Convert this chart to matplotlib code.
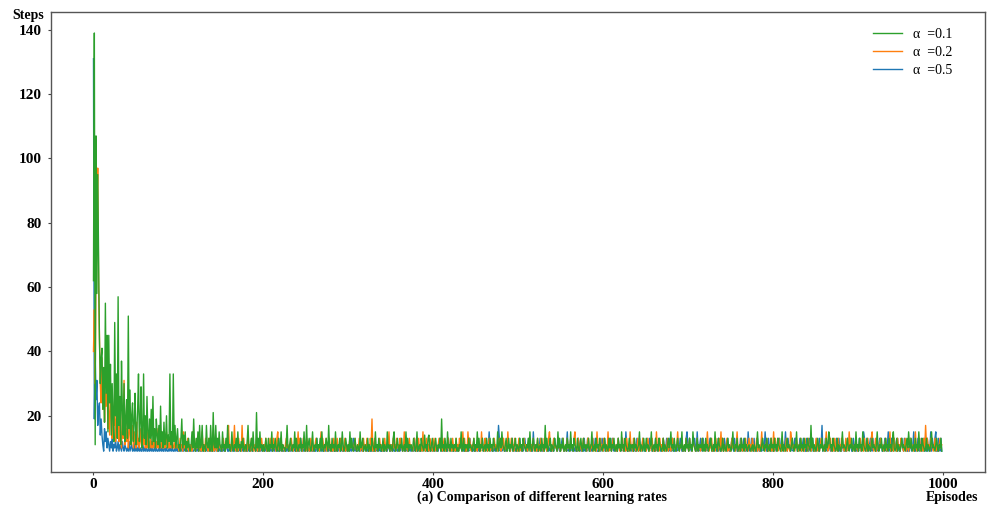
import matplotlib.pyplot as plt
import numpy as np

plt.rcParams["font.family"] = ["Liberation Serif", "DejaVu Serif"]

labels = ["α  =0.1", "α  =0.2", "α  =0.5"]
colors = ["#2ca02c", "#ff7f0e", "#1f77b4"]

# pasos por episodio, episodios 0-99
green_head = [
    62, 139, 11, 107, 58, 95, 70, 44, 30, 38,
    41, 22, 35, 18, 55, 27, 45, 15, 45, 24,
    36, 14, 30, 19, 12, 49, 20, 33, 13, 57,
    17, 26, 11, 37, 22, 14, 30, 12, 19, 25,
    13, 51, 16, 28, 11, 20, 24, 12, 18, 27,
    11, 15, 22, 33, 12, 18, 29, 10, 14, 33,
    13, 20, 11, 26, 15, 10, 19, 13, 22, 11,
    26, 12, 16, 10, 19, 14, 11, 17, 10, 23,
    12, 15, 10, 18, 11, 13, 20, 10, 14, 12,
    33, 11, 15, 10, 33, 12, 17, 10, 13, 16,
]
orange_head = [
    40, 53, 30, 68, 85, 97, 60, 45, 30, 24,
    38, 22, 35, 18, 27, 23, 31, 16, 25, 14,
    22, 29, 13, 20, 17, 26, 12, 19, 15, 24,
    12, 18, 14, 10, 21, 13, 31, 11, 16, 12,
    19, 10, 14, 22, 11, 13, 17, 10, 15, 12,
    10, 18, 11, 13, 10, 16, 12, 10, 14, 11,
    17, 10, 12, 10, 15, 11, 10, 13, 10, 12,
    10, 14, 11, 10, 12, 10, 16, 10, 11, 10,
    13, 10, 10, 12, 10, 11, 15, 10, 10, 12,
    10, 11, 10, 13, 10, 10, 12, 10, 11, 10,
]
blue_head = [
    131, 19, 38, 25, 31, 17, 22, 24, 14, 19,
    14, 11, 9, 16, 12, 15, 10, 13, 11, 9,
    12, 10, 14, 9, 11, 10, 13, 9, 10, 12,
    9, 11, 10, 9, 12, 10, 9, 11, 10, 9,
    10, 9, 12, 9, 10, 11, 9, 10, 9, 13,
    9, 10, 9, 11, 9, 10, 9, 9, 12, 9,
    10, 9, 11, 9, 9, 10, 9, 12, 9, 10,
    9, 9, 11, 9, 10, 9, 9, 10, 9, 11,
    9, 10, 9, 9, 12, 9, 10, 9, 9, 10,
    9, 11, 9, 10, 9, 9, 10, 9, 12, 9,
]

# episodios 100-999: cada caracter = pasos - 9 (base 36), una linea = 50 episodios
green_tail = [
    "1204a 15260 31410 261a2 04160 81280 21082 14082 0c218 14062",
    "10612 04181 20161 02140 61203 14012 03810 24061 10c14 06120",
    "20141 04021 60214 10240 16021 10281 02410 21604 10214 02160",
    "18024 10261 02140 21406 10214 20812 04120 61021 40162 01420",
    "20614 10241 02106 12401 20140 21042 10612 04120 14021 06120",
    "21046 10241 02140 12061 40212 01420 16012 04210 51204 51024",
    "10241 02140 a1204 10612 04120 21401 02160 14021 20412 10240",
    "21614 02140 12041 20412 04210 16024 16210 24014 02140 12402",
    "10412 04210 21406 10241 02140 12041 20814 01240 21042 10614",
    "02140 12041 20612 04210 41024 10412 02140 12601 20412 04210",
    "21402 10414 02140 12041 20612 04210 14021 20412 01260 21041",
    "04120 12601 20412 04210 14021 02412 61204 10241 02160 12041",
    "20412 06210 14021 21402 04120 12401 20612 04210 14021 02412",
    "10261 02140 12041 20412 01210 12021 02612 10241 02140 12041",
    "20412 04210 16021 02412 10241 02160 12041 20412 04210 81402",
    "10241 02140 12041 26412 04210 14021 02612 10241 02140 12061",
    "20412 06210 14021 02412 10261 02140 12041 20412 04610 14021",
    "02412 10241 62140 12041 20612 04210 14021 02612 10241 02140",
]
orange_tail = [
    "20412 06120 14021 20614 02140 12061 20412 04210 16021 02412",
    "10241 02148 12041 28102 04120 81402 10612 04120 21402 10241",
    "02140 12041 20412 04610 14021 02412 10241 02140 16041 20412",
    "04210 14021 02412 10261 41024 02140 12041 20412 04210 14021",
    "02412 10241 02140 12041 20412 042a0 14021 02412 10241 02160",
    "12041 20412 04210 16021 02412 10241 02140 12061 20412 04210",
    "14021 02412 10241 02140 12041 20412 04210 61402 06241 02140",
    "12041 20612 04210 14021 02412 10241 02140 12061 20412 04210",
    "14021 02412 10241 02140 12041 20412 04210 14621 02412 10241",
    "02140 12041 20412 04610 14021 02412 10441 02140 12061 20412",
    "04210 16021 02412 10241 02140 12041 20612 04210 14021 02412",
    "10241 02140 12061 20412 04210 14021 02412 10261 02140 12041",
    "20412 04210 14021 02412 10261 02140 12041 20416 04210 14021",
    "02412 10261 02140 12041 20412 04210 14021 02612 10241 02140",
    "16041 20412 04210 14021 06412 10241 02140 12041 20412 04210",
    "14021 02412 10261 02140 12041 20412 04210 14021 62412 10241",
    "02140 12041 20412 04610 14021 02412 10241 02160 12041 20412",
    "04210 14021 02412 10261 02140 12041 82412 04210 14021 02412",
]
blue_tail = [
    "01020 10201 00102 01001 20100 10020 01010 20100 01002 10010",
    "02010 01200 10010 20101 00201 01020 10010 02001 10200 01010",
    "20010 10201 00102 01001 40100 10020 01010 20100 01004 10010",
    "02010 01200 10040 20101 00201 01020 10010 02001 10400 01010",
    "20010 14201 00102 01001 20100 10040 01010 20100 01002 10410",
    "02010 01200 10410 20101 00201 01040 10010 02041 10200 01010",
    "20010 10241 00102 01041 20100 10020 01410 20100 01042 10010",
    "02010 01240 10410 26101 00201 01840 10410 02041 10240 01010",
    "20410 10241 00142 01061 20100 14020 01410 20100 01042 10410",
    "02410 01260 10410 20101 04201 01040 10410 02041 14200 01014",
    "20410 10241 04102 01041 20140 10620 01410 20400 41042 10410",
    "02410 41200 10410 24101 04201 41040 10410 02041 14200 01046",
    "20410 14241 06102 41041 20140 14420 01410 24100 41042 10410",
    "02410 41200 10410 24101 06201 41040 10410 02041 16200 41040",
    "20410 14241 04102 61041 20140 14420 01410 24100 41042 10410",
    "02410 41280 10410 24101 04201 41040 10410 02041 14200 41040",
    "20410 14641 04102 41041 20140 14420 01410 26100 41042 10410",
    "02410 41200 10410 26101 04201 41040 10410 06041 14600 41040",
]


def decode(head, tail):
    s = "".join(tail).replace(" ", "")
    return np.array(head + [int(c, 36) + 9 for c in s])


green = decode(green_head, green_tail)
orange = decode(orange_head, orange_tail)
blue = decode(blue_head, blue_tail)
episodes = np.arange(len(green))

fig = plt.figure(figsize=(9.89, 5.12), dpi=100)
ax = fig.add_axes([0.0516, 0.078, 0.9444, 0.8984])

lb, = ax.plot(episodes, blue, color=colors[2], lw=1.0)
lo, = ax.plot(episodes, orange, color=colors[1], lw=1.0)
lg, = ax.plot(episodes, green, color=colors[0], lw=1.0)

ax.set_xlim(-50, 1050)
ax.set_ylim(2.5, 145.5)
ax.set_xticks([0, 200, 400, 600, 800, 1000])
ax.set_yticks([20, 40, 60, 80, 100, 120, 140])
ax.tick_params(axis="both", labelsize=11, length=2.5, color="#444444")
ax.tick_params(axis="x", pad=1.5)
ax.tick_params(axis="y", pad=4)
for t in ax.get_xticklabels() + ax.get_yticklabels():
    t.set_fontweight("bold")
for s in ax.spines.values():
    s.set_color("#555555")
    s.set_linewidth(1.0)

ax.legend([lg, lo, lb], labels, loc="upper left", bbox_to_anchor=(0.874, 0.977),
          borderaxespad=0, frameon=False, fontsize=10, labelspacing=0.35,
          handlelength=2.1)

fig.text(12.7 / 989, 1 - 16 / 512, "Steps", ha="left", va="center",
         fontsize=10, fontweight="bold")
fig.text(952 / 989, 1 - 497 / 512, "Episodes", ha="center", va="center",
         fontsize=10, fontweight="bold")
fig.text(542 / 989, 1 - 497 / 512, "(a) Comparison of different learning rates",
         ha="center", va="center", fontsize=10, fontweight="bold")

fig.savefig("out.png", dpi=100)
